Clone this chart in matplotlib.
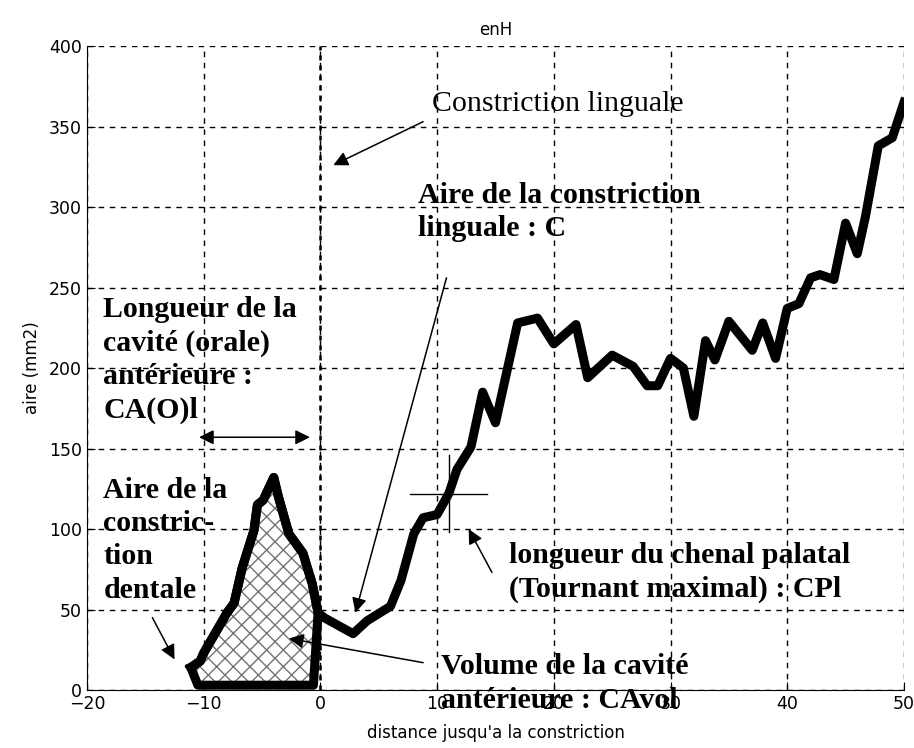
import matplotlib
matplotlib.use("Agg")
import matplotlib.pyplot as plt
import numpy as np

# area function (distance to constriction, area)
dist = [-11.1, -10.3, -10.0, -8.0, -7.4, -6.7, -5.7, -5.4, -4.9, -4.0, -3.6, -2.7, -1.5, -0.7, -0.2,
        0.3, 2.8, 4.0, 6.0, 6.9, 8.0, 8.8, 10.0, 11.0, 11.7, 12.9, 13.9, 15.0, 16.9, 18.6, 20.0,
        21.9, 22.9, 25.0, 26.8, 28.0, 28.9, 30.0, 31.1, 32.0, 33.0, 33.8, 35.0, 37.0, 37.9, 39.0,
        40.0, 41.0, 42.0, 42.8, 44.0, 45.0, 46.0, 46.7, 47.8, 49.0, 50.0]
area = [14, 18, 23, 48, 54, 76, 99, 115, 118, 132, 120, 97, 85, 66, 48,
        45, 35, 43, 52, 68, 97, 107, 109, 122, 137, 151, 185, 166, 228, 231, 215,
        227, 194, 208, 201, 189, 189, 206, 200, 170, 217, 205, 229, 211, 228, 206,
        237, 240, 256, 258, 255, 290, 271, 294, 338, 343, 365]

# base of the anterior cavity polygon
base_x = [-0.6, -10.5]
base_y = [3, 3]
n_cav = 15  # points of the curve belonging to the cavity

# crosshair (tournant maximal)
cross_x, cross_y = 11.0, 122
cross_hw, cross_hh = 3.3, 24

xticks = [-20, -10, 0, 10, 20, 30, 40, 50]
yticks = [0, 50, 100, 150, 200, 250, 300, 350, 400]

fig = plt.figure(figsize=(9.14, 7.48), dpi=100)
ax = fig.add_axes([0.0952, 0.0775, 0.8938, 0.861])

serif = "Liberation Serif"
plt.rcParams['hatch.linewidth'] = 1.0

ax.set_xlim(-20, 50)
ax.set_ylim(0, 400)
ax.set_xticks(xticks)
ax.set_yticks(yticks)
ax.grid(True, color='black', linestyle=(0, (4, 4)), linewidth=1.0)
ax.axvline(0, color='black', linestyle=(0, (2, 2)), linewidth=1.8)
ax.spines['top'].set_visible(False)
ax.spines['right'].set_visible(False)
ax.tick_params(direction='in', length=6, labelsize=12.5)
ax.set_title('enH', fontsize=12, pad=8)
ax.set_xlabel("distance jusqu'a la constriction", fontsize=12, labelpad=8)
ax.set_ylabel('aire (mm2)', fontsize=12, labelpad=6)

# hatched cavity
px = dist[:n_cav] + base_x
py = area[:n_cav] + base_y
ax.fill(px, py, facecolor='white', edgecolor='0.45', hatch='xx', linewidth=0, zorder=3)
ax.plot(px + [px[0]], py + [py[0]], color='black', linewidth=6.5, solid_joinstyle='round', zorder=4)

ax.plot(dist, area, color='black', linewidth=6.5, solid_joinstyle='round', zorder=4)

ax.plot([cross_x - cross_hw, cross_x + cross_hw], [cross_y, cross_y], color='black', lw=1, zorder=5)
ax.plot([cross_x, cross_x], [cross_y - cross_hh, cross_y + cross_hh], color='black', lw=1, zorder=5)

ap = dict(arrowstyle='-|>', color='black', lw=1.1, mutation_scale=22, shrinkA=0, shrinkB=0)
fs = 21.5
ls = 1.3

ax.annotate('', xy=(1.1, 326), xytext=(8.8, 353), arrowprops=ap, zorder=6)
ax.text(9.6, 364, 'Constriction linguale', fontsize=fs, family=serif, va='center', zorder=6)

ax.annotate('', xy=(3.0, 48), xytext=(10.8, 256), arrowprops=ap, zorder=6)
ax.text(8.4, 297, 'Aire de la constriction\nlinguale : C', fontsize=fs, family=serif,
        weight='bold', va='center', linespacing=ls, zorder=6)

ax.text(-18.6, 205, 'Longueur de la\ncavité (orale)\nantérieure :\nCA(O)l', fontsize=fs,
        family=serif, weight='bold', va='center', linespacing=ls, zorder=6)
ax.annotate('', xy=(-0.9, 157), xytext=(-10.4, 157),
            arrowprops=dict(ap, arrowstyle='<|-|>'), zorder=6)

ax.text(-18.6, 93, 'Aire de la\nconstric-\ntion\ndentale', fontsize=fs, family=serif,
        weight='bold', va='center', linespacing=ls, zorder=6)
ax.annotate('', xy=(-12.5, 19), xytext=(-14.4, 45), arrowprops=ap, zorder=6)

ax.annotate('', xy=(-2.7, 32), xytext=(8.8, 17), arrowprops=ap, zorder=6)
ax.text(10.3, 4, 'Volume de la cavité\nantérieure : CAvol', fontsize=fs, family=serif,
        weight='bold', va='center', linespacing=ls, zorder=6)

ax.annotate('', xy=(12.7, 100), xytext=(14.7, 73), arrowprops=ap, zorder=6)
ax.text(16.2, 73, 'longueur du chenal palatal\n(Tournant maximal) : CPl', fontsize=fs,
        family=serif, weight='bold', va='center', linespacing=ls, zorder=6)

fig.savefig('out.png', dpi=100)
